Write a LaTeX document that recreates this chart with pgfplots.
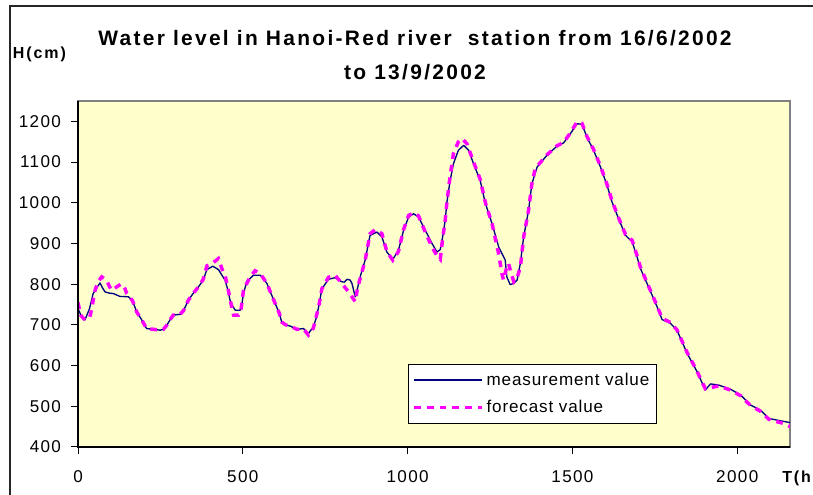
\documentclass[border=0pt]{standalone}
\usepackage{pgfplots}
\pgfplotsset{compat=1.18}
\usepackage{fontspec}
\setmainfont{Liberation Sans}
\newfontfamily\tickfont{Liberation Sans}[LetterSpace=8]
\newfontfamily\titlefont{Liberation Sans}[LetterSpace=11]
\newfontfamily\hfont{Liberation Sans}[LetterSpace=12]
\newfontfamily\legfont{Liberation Sans}[LetterSpace=5]
\definecolor{bgy}{HTML}{FFFFCC}
\definecolor{navyc}{HTML}{000080}
\definecolor{magc}{HTML}{FF00FF}
\begin{document}
\begin{tikzpicture}
\path[use as bounding box] (0pt,0pt) rectangle (609.75pt,371.25pt);
\clip (0pt,0pt) rectangle (609.75pt,371.25pt);
\draw[black!85, line width=1.3pt] (7.5pt,-20pt) -- (7.5pt,366.75pt) -- (640pt,366.75pt);
\node[anchor=base, font=\titlefont\bfseries\fontsize{15.7pt}{18pt}\selectfont] at (311.25pt,336.75pt) {Water level in Hanoi-Red river~ station from 16/6/2002};
\node[anchor=base, font=\titlefont\bfseries\fontsize{15.7pt}{18pt}\selectfont] at (311.25pt,311.25pt) {to 13/9/2002};
\node[anchor=base west, inner sep=0pt, font=\hfont\bfseries\fontsize{12pt}{14pt}\selectfont] at (9.5pt,327pt) {H(cm)};
\node[anchor=base west, inner sep=0pt, font=\hfont\bfseries\fontsize{12pt}{14pt}\selectfont] at (586.5pt,9pt) {T(h)};
\begin{axis}[
  at={(58.5pt,36pt)}, anchor=south west,
  scale only axis, width=534pt, height=259.5pt,
  xmin=0, xmax=2160, ymin=400, ymax=1250,
  xtick={0,500,1000,1500,2000},
  ytick={400,500,600,700,800,900,1000,1100,1200},
  xtick pos=bottom, ytick pos=left,
  tick align=outside, major tick length=5.25pt,
  tick style={black, line width=0.75pt},
  axis line style={draw=gray, line width=1.2pt},
  axis background/.style={fill=bgy},
  /pgf/number format/assume math mode=true,
  /pgf/number format/1000 sep={},
  ticklabel style={font=\tickfont\fontsize{12.8pt}{15pt}\selectfont},
  yticklabel style={xshift=-4pt},
  xticklabel style={yshift=-9pt},
  legend style={at={(rel axis cs:0.4635,0.0665)}, anchor=south west,
    draw=black, fill=white, line width=0.75pt,
    inner xsep=3pt, inner ysep=4.5pt, row sep=6pt,
    font=\legfont\fontsize{12.8pt}{15pt}\selectfont,
    cells={anchor=west}},
  legend image code/.code={\draw[#1] (0pt,0pt) -- (51pt,0pt);},
  after end axis/.code={
    \draw[black, line width=0.9pt] (rel axis cs:0,1) -- (rel axis cs:0,0) -- (rel axis cs:1,0);
  },
]
\addplot[navyc, line width=1pt, line join=round] coordinates {
(0,740) (10,722) (21,712) (35,740) (46,777) (60,795) (67,803) (75,790) (82,781)
(95,778) (107,777) (127,770) (153,769) (165,760) (178,732) (195,710) (208,691)
(230,689) (249,687) (259,689) (270,700) (279,712) (289,724) (310,726) (320,735)
(335,761) (350,778) (365,793) (380,810) (391,836) (409,844) (426,836) (446,810)
(455,785) (461,761) (470,745) (477,736) (492,736) (497,750) (502,777) (512,806)
(532,822) (553,822) (573,802) (585,778) (598,753) (610,730) (618,707) (630,700)
(644,697) (664,689) (684,691) (699,679) (714,695) (722,715) (730,744) (740,789)
(760,812) (780,816) (800,806) (808,805) (816,812) (826,810) (831,802) (841,769)
(848,790) (856,818) (871,859) (886,920) (907,928) (922,916) (937,879) (955,861)
(972,883) (988,933) (1003,965) (1018,973) (1033,965) (1053,933) (1074,900)
(1089,879) (1099,885) (1106,915) (1114,957) (1119,1000) (1128,1050) (1139,1096)
(1154,1129) (1170,1141) (1185,1129) (1200,1096) (1220,1055) (1236,998)
(1256,949) (1276,892) (1296,859) (1301,818) (1311,799) (1322,802) (1332,810)
(1342,851) (1352,916) (1367,982) (1377,1047) (1393,1088) (1423,1117)
(1453,1139) (1473,1147) (1494,1170) (1514,1194) (1529,1193) (1544,1161)
(1564,1129) (1585,1088) (1605,1043) (1620,1002) (1640,961) (1661,920)
(1681,904) (1696,867) (1706,839) (1731,793) (1757,744) (1772,713) (1797,704)
(1817,687) (1848,630) (1878,585) (1903,540) (1919,555) (1944,552) (1979,542)
(2010,528) (2040,503) (2070,491) (2096,470) (2121,466) (2140,463) (2160,460)
};
\addlegendentry{measurement value}
\addplot[magc, line width=2.6pt, dash pattern=on 5pt off 4.5pt] coordinates {
(0,755) (8,724) (21,712) (36,720) (42,740) (50,780) (60,805) (72,818) (87,810)
(95,795) (102,785) (117,793) (130,800) (138,798) (148,777) (165,760) (178,732)
(195,710) (208,691) (230,689) (249,687) (259,689) (270,700) (279,712) (289,724)
(310,726) (320,735) (335,761) (350,778) (365,793) (380,812) (391,845) (409,852)
(426,863) (440,830) (446,822) (455,790) (462,760) (472,724) (487,724) (495,740)
(502,785) (520,815) (537,833) (553,826) (573,802) (585,778) (598,753) (610,730)
(618,707) (630,700) (644,697) (664,689) (684,690) (699,675) (714,692) (730,744)
(740,789) (760,817) (780,822) (800,802) (821,781) (841,757) (848,790) (856,814)
(871,858) (886,924) (902,934) (922,924) (937,880) (955,859) (972,880) (988,935)
(1003,969) (1018,975) (1033,968) (1053,929) (1074,891) (1089,870) (1099,861)
(1106,910) (1114,957) (1119,1000) (1128,1060) (1139,1121) (1154,1150)
(1165,1158) (1180,1145) (1200,1100) (1220,1058) (1236,1000) (1256,949)
(1276,875) (1286,826) (1291,810) (1300,840) (1306,851) (1313,830) (1322,806)
(1332,815) (1342,842) (1352,916) (1367,982) (1377,1047) (1387,1084)
(1393,1090) (1423,1118) (1453,1140) (1473,1148) (1494,1172) (1514,1199)
(1529,1195) (1544,1163) (1564,1131) (1585,1090) (1605,1045) (1620,1005)
(1640,963) (1661,922) (1681,908) (1696,870) (1706,842) (1731,795) (1757,746)
(1772,716) (1797,706) (1817,688) (1848,632) (1878,586) (1903,543) (1919,546)
(1944,550) (1979,540) (2010,526) (2040,502) (2070,488) (2096,468) (2121,462)
(2140,458) (2160,450)
};
\addlegendentry{forecast value}
\end{axis}
\end{tikzpicture}
\end{document}
